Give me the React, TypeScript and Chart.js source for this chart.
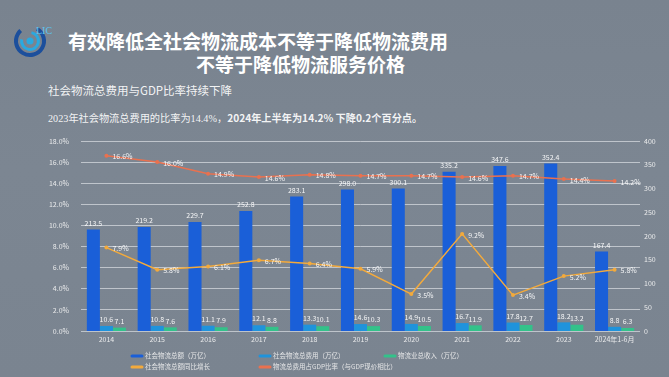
import React, { useEffect, useRef } from "react";
import { Chart, registerables } from "chart.js";

Chart.register(...registerables);

const categories = ["2014", "2015", "2016", "2017", "2018", "2019", "2020", "2021", "2022", "2023", "2024年1-6月"];
const totalLogistics = [213.5, 219.2, 229.7, 252.8, 283.1, 298.0, 300.1, 335.2, 347.6, 352.4, 167.4];
const totalCost = [10.6, 10.8, 11.1, 12.1, 13.3, 14.6, 14.9, 16.7, 17.8, 18.2, 8.8];
const industryRevenue = [7.1, 7.6, 7.9, 8.8, 10.1, 10.3, 10.5, 11.9, 12.7, 13.2, 6.3];
const totalGrowth = [7.9, 5.8, 6.1, 6.7, 6.4, 5.9, 3.5, 9.2, 3.4, 5.2, 5.8];
const costToGdp = [16.6, 16.0, 14.9, 14.6, 14.8, 14.7, 14.7, 14.6, 14.7, 14.4, 14.2];

const seriesLabels = [
  "社会物流总额（万亿）",
  "社会物流总费用（万亿）",
  "物流业总收入（万亿）",
  "社会物流总额同比增长",
  "物流总费用占GDP比率（与GDP现价相比）",
];

const FONT = "'Noto Sans CJK SC', 'Noto Sans', sans-serif";

const labelPlugin = {
  id: "valueLabels",
  afterDatasetsDraw(chart: any) {
    const ctx = chart.ctx;
    ctx.save();
    ctx.font = `7px ${FONT}`;
    ctx.fillStyle = "rgba(255,255,255,0.92)";
    chart.data.datasets.forEach((ds: any, i: number) => {
      const meta = chart.getDatasetMeta(i);
      meta.data.forEach((el: any, j: number) => {
        const v = ds.data[j] as number;
        if (meta.type === "bar") {
          ctx.textAlign = "center";
          ctx.textBaseline = "bottom";
          ctx.fillText(v.toFixed(1), el.x, el.y - 3);
        } else {
          ctx.textAlign = "left";
          ctx.textBaseline = "middle";
          ctx.fillText(v.toFixed(1) + "%", el.x + 6, el.y + 1);
        }
      });
    });
    ctx.restore();
  },
  afterDraw(chart: any) {
    const ctx = chart.ctx;
    const pos = [
      [132, 356],
      [260, 356],
      [385, 356],
      [132, 367],
      [260, 367],
    ];
    ctx.save();
    ctx.font = `6.5px ${FONT}`;
    ctx.textAlign = "left";
    ctx.textBaseline = "middle";
    chart.data.datasets.forEach((ds: any, i: number) => {
      const [x, y] = pos[i];
      ctx.strokeStyle = ds.borderColor;
      ctx.lineWidth = 3;
      ctx.lineCap = "round";
      ctx.beginPath();
      ctx.moveTo(x, y);
      ctx.lineTo(x + 10, y);
      ctx.stroke();
      ctx.fillStyle = "rgba(240,240,240,0.9)";
      ctx.fillText(ds.label, x + 13, y);
    });
    ctx.restore();
  },
};

export default function App() {
  const canvasRef = useRef<HTMLCanvasElement | null>(null);

  useEffect(() => {
    document.body.style.margin = "0";
    const ctx = canvasRef.current!.getContext("2d")!;
    const chart = new Chart(ctx, {
      type: "bar",
      data: {
        labels: categories,
        datasets: [
          {
            type: "bar",
            label: seriesLabels[0],
            data: totalLogistics,
            backgroundColor: "#1a5fd8",
            borderColor: "#1a5fd8",
            yAxisID: "y1",
            order: 2,
          },
          {
            type: "bar",
            label: seriesLabels[1],
            data: totalCost,
            backgroundColor: "#1f93dc",
            borderColor: "#1f93dc",
            yAxisID: "y1",
            order: 2,
          },
          {
            type: "bar",
            label: seriesLabels[2],
            data: industryRevenue,
            backgroundColor: "#33c28a",
            borderColor: "#33c28a",
            yAxisID: "y1",
            order: 2,
          },
          {
            type: "line",
            label: seriesLabels[3],
            data: totalGrowth,
            borderColor: "#f3aa3c",
            backgroundColor: "#f3aa3c",
            borderWidth: 1.5,
            pointRadius: 2,
            pointBorderWidth: 0,
            yAxisID: "y",
            order: 0,
          } as any,
          {
            type: "line",
            label: seriesLabels[4],
            data: costToGdp,
            borderColor: "#e9714f",
            backgroundColor: "#e9714f",
            borderWidth: 1.5,
            pointRadius: 2,
            pointBorderWidth: 0,
            yAxisID: "y",
            order: 0,
          } as any,
        ],
      },
      options: {
        animation: false,
        responsive: false,
        maintainAspectRatio: false,
        layout: { padding: { top: 141, bottom: 32, left: 0, right: 0 } },
        datasets: {
          bar: { barPercentage: 1, categoryPercentage: 0.77 },
        },
        plugins: {
          legend: { display: false },
          tooltip: { enabled: false },
          title: { display: false },
        },
        scales: {
          x: {
            grid: { display: false, drawTicks: false },
            border: { display: false },
            ticks: {
              color: "rgba(245,245,245,0.9)",
              font: { size: 7, family: FONT },
              padding: 4,
              maxRotation: 0,
              autoSkip: false,
            },
            afterFit: (s: any) => {
              s.height = 14;
            },
          },
          y: {
            position: "left",
            min: 0,
            max: 18,
            ticks: {
              stepSize: 2,
              color: "rgba(245,245,245,0.9)",
              font: { size: 7, family: FONT },
              padding: 12,
              callback: (v: any) => Number(v).toFixed(1) + "%",
            },
            grid: { color: "rgba(228,231,235,0.65)", lineWidth: 1, drawTicks: false },
            border: { display: false },
            afterFit: (s: any) => {
              s.width = 81;
            },
          },
          y1: {
            position: "right",
            min: 0,
            max: 400,
            ticks: {
              stepSize: 50,
              color: "rgba(245,245,245,0.9)",
              font: { size: 7, family: FONT },
              padding: 4,
            },
            grid: { display: false, drawTicks: false },
            border: { display: false },
            afterFit: (s: any) => {
              s.width = 29;
            },
          },
        },
      },
      plugins: [labelPlugin],
    });
    return () => chart.destroy();
  }, []);

  return (
    <div
      style={{
        position: "fixed",
        left: 0,
        top: 0,
        width: 669,
        height: 377,
        overflow: "hidden",
        background: "linear-gradient(180deg, #79838f 0%, #7c8692 45%, #7a8490 100%)",
        fontFamily: FONT,
      }}
    >
      <svg width="44" height="44" style={{ position: "absolute", left: 12, top: 19 }}>
        <circle cx="18" cy="22" r="14" fill="none" stroke="#1c4f9c" strokeWidth="4" strokeDasharray="70 18" transform="rotate(-60 18 22)" />
        <circle cx="18" cy="22" r="8.5" fill="none" stroke="#2aa9e0" strokeWidth="3" strokeDasharray="40 14" transform="rotate(-80 18 22)" />
        <circle cx="18" cy="22" r="3.5" fill="#2aa9e0" />
        <text x="24" y="15" fontSize="10" fill="#5cc4f0" fontFamily="Liberation Serif, serif">LIC</text>
      </svg>
      <div style={{ position: "absolute", left: 68, top: 31, fontSize: 19, lineHeight: "19px", fontWeight: 700, color: "#ffffff", whiteSpace: "nowrap" }}>
        有效降低全社会物流成本不等于降低物流费用
      </div>
      <div style={{ position: "absolute", left: 196, top: 54, fontSize: 19, lineHeight: "19px", fontWeight: 700, color: "#ffffff", whiteSpace: "nowrap" }}>
        不等于降低物流服务价格
      </div>
      <div style={{ position: "absolute", left: 48, top: 83, fontSize: 11.5, lineHeight: "14px", color: "rgba(255,255,255,0.92)", whiteSpace: "nowrap" }}>
        社会物流总费用与GDP比率持续下降
      </div>
      <div style={{ position: "absolute", left: 48, top: 112, fontSize: 10.2, lineHeight: "12px", color: "rgba(255,255,255,0.92)", whiteSpace: "nowrap" }}>
        <span style={{ fontFamily: "'Liberation Serif', 'Noto Sans CJK SC', serif" }}>2023年社会物流总费用的比率为14.4%，</span>
        <span style={{ fontWeight: 700 }}>2024年上半年为14.2% 下降0.2个百分点。</span>
      </div>
      <canvas
        ref={canvasRef}
        width={669}
        height={377}
        style={{ position: "absolute", left: 0, top: 0, width: 669, height: 377 }}
      />
    </div>
  );
}
